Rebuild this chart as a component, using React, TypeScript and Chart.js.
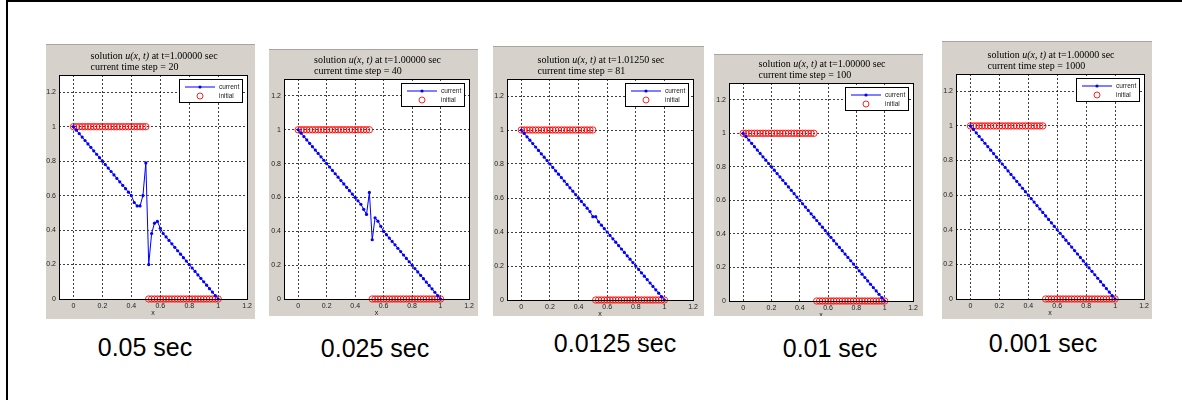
import React, { useEffect, useRef } from "react";
import { Chart, registerables } from "chart.js";

Chart.register(...registerables);

// ---------- data ----------
const xGrid = [
  0, 0.02, 0.04, 0.06, 0.08, 0.1, 0.12, 0.14, 0.16, 0.18,
  0.2, 0.22, 0.24, 0.26, 0.28, 0.3, 0.32, 0.34, 0.36, 0.38,
  0.4, 0.42, 0.44, 0.46, 0.48, 0.5, 0.52, 0.54, 0.56, 0.58,
  0.6, 0.62, 0.64, 0.66, 0.68, 0.7, 0.72, 0.74, 0.76, 0.78,
  0.8, 0.82, 0.84, 0.86, 0.88, 0.9, 0.92, 0.94, 0.96, 0.98, 1,
];

const initialValues = [
  1, 1, 1, 1, 1, 1, 1, 1, 1, 1,
  1, 1, 1, 1, 1, 1, 1, 1, 1, 1,
  1, 1, 1, 1, 1, 1, 0, 0, 0, 0,
  0, 0, 0, 0, 0, 0, 0, 0, 0, 0,
  0, 0, 0, 0, 0, 0, 0, 0, 0, 0, 0,
];

const currentDt005 = [
  1, 0.98, 0.96, 0.94, 0.92, 0.9, 0.88, 0.86, 0.84, 0.82,
  0.8, 0.78, 0.76, 0.74, 0.72, 0.7, 0.68, 0.66, 0.64, 0.62,
  0.6, 0.56, 0.54, 0.54, 0.6, 0.79, 0.2, 0.38, 0.44, 0.45,
  0.41, 0.38, 0.36, 0.34, 0.32, 0.3, 0.28, 0.26, 0.24, 0.22,
  0.2, 0.18, 0.16, 0.14, 0.12, 0.1, 0.08, 0.06, 0.04, 0.02, 0,
];

const currentDt0025 = [
  1, 0.98, 0.96, 0.94, 0.92, 0.9, 0.88, 0.86, 0.84, 0.82,
  0.8, 0.78, 0.76, 0.74, 0.72, 0.7, 0.68, 0.66, 0.64, 0.62,
  0.6, 0.58, 0.56, 0.53, 0.5, 0.63, 0.35, 0.48, 0.46, 0.43,
  0.4, 0.38, 0.36, 0.34, 0.32, 0.3, 0.28, 0.26, 0.24, 0.22,
  0.2, 0.18, 0.16, 0.14, 0.12, 0.1, 0.08, 0.06, 0.04, 0.02, 0,
];

const currentDt00125 = [
  1, 0.98, 0.96, 0.94, 0.92, 0.9, 0.88, 0.86, 0.84, 0.82,
  0.8, 0.78, 0.76, 0.74, 0.72, 0.7, 0.68, 0.66, 0.64, 0.62,
  0.6, 0.58, 0.56, 0.54, 0.52, 0.49, 0.49, 0.46, 0.44, 0.42,
  0.4, 0.38, 0.36, 0.34, 0.32, 0.3, 0.28, 0.26, 0.24, 0.22,
  0.2, 0.18, 0.16, 0.14, 0.12, 0.1, 0.08, 0.06, 0.04, 0.02, 0,
];

const currentDt001 = [
  1, 0.98, 0.96, 0.94, 0.92, 0.9, 0.88, 0.86, 0.84, 0.82,
  0.8, 0.78, 0.76, 0.74, 0.72, 0.7, 0.68, 0.66, 0.64, 0.62,
  0.6, 0.58, 0.56, 0.54, 0.52, 0.5, 0.48, 0.46, 0.44, 0.42,
  0.4, 0.38, 0.36, 0.34, 0.32, 0.3, 0.28, 0.26, 0.24, 0.22,
  0.2, 0.18, 0.16, 0.14, 0.12, 0.1, 0.08, 0.06, 0.04, 0.02, 0,
];

const currentDt0001 = [
  1, 0.98, 0.96, 0.94, 0.92, 0.9, 0.88, 0.86, 0.84, 0.82,
  0.8, 0.78, 0.76, 0.74, 0.72, 0.7, 0.68, 0.66, 0.64, 0.62,
  0.6, 0.58, 0.56, 0.54, 0.52, 0.5, 0.48, 0.46, 0.44, 0.42,
  0.4, 0.38, 0.36, 0.34, 0.32, 0.3, 0.28, 0.26, 0.24, 0.22,
  0.2, 0.18, 0.16, 0.14, 0.12, 0.1, 0.08, 0.06, 0.04, 0.02, 0,
];

const currentSeries = [currentDt005, currentDt0025, currentDt00125, currentDt001, currentDt0001];
const xTicks = [0, 0.2, 0.4, 0.6, 0.8, 1, 1.2];
const yTicks = [0, 0.2, 0.4, 0.6, 0.8, 1, 1.2];
const titleTimes = ["1.00000", "1.00000", "1.01250", "1.00000", "1.00000"];
const timeSteps = ["20", "40", "81", "100", "1000"];
const captions = ["0.05 sec", "0.025 sec", "0.0125 sec", "0.01 sec", "0.001 sec"];
const seriesLabels = ["current", "initial"];

// ---------- layout (screen px) ----------
const panels = [
  { gx: 46, gy: 45, gw: 209, gh: 274, L: 59, T: 75, R: 249, B: 299, capX: 145, capBase: 356 },
  { gx: 269, gy: 50, gw: 209, gh: 266, L: 284, T: 79, R: 469, B: 299, capX: 375, capBase: 357 },
  { gx: 493, gy: 47, gw: 211, gh: 269, L: 507, T: 79, R: 693, B: 300, capX: 615, capBase: 352 },
  { gx: 714, gy: 55, gw: 209, gh: 261, L: 729, T: 83, R: 913, B: 301, capX: 830, capBase: 357 },
  { gx: 942, gy: 42, gw: 210, gh: 277, L: 956, T: 74, R: 1144, B: 299, capX: 1043, capBase: 352 },
];

const SANS = "'Liberation Sans', Arial, sans-serif";
const SERIF = "'Liberation Serif', 'DejaVu Serif', serif";
const BLUE = "#0000ff";
const RED = "rgba(255,0,0,0.85)";

function makeDecor(idx: number) {
  return {
    id: "decor" + idx,
    beforeDraw(chart: any) {
      const { ctx, chartArea: a } = chart;
      ctx.save();
      ctx.fillStyle = "#ffffff";
      ctx.fillRect(a.left, a.top, a.right - a.left, a.bottom - a.top);
      ctx.restore();
    },
    afterDraw(chart: any) {
      const { ctx, chartArea: a } = chart;
      ctx.save();
      // plot box
      ctx.strokeStyle = "#000";
      ctx.lineWidth = 1;
      ctx.strokeRect(Math.round(a.left) + 0.5, Math.round(a.top) + 0.5, Math.round(a.right - a.left), Math.round(a.bottom - a.top));

      // title
      const cx = (a.left + a.right) / 2 + 1;
      const fN = `10px ${SERIF}`;
      const fI = `italic 10px ${SERIF}`;
      const parts: [string, string][] = [
        ["solution ", fN],
        ["u(x, t)", fI],
        [` at t=${titleTimes[idx]} sec`, fN],
      ];
      let total = 0;
      const widths = parts.map(([s, f]) => {
        ctx.font = f;
        const w = ctx.measureText(s).width;
        total += w;
        return w;
      });
      let x = cx - total / 2;
      const startX = x;
      ctx.fillStyle = "#000";
      ctx.textBaseline = "middle";
      ctx.textAlign = "left";
      parts.forEach(([s, f], i) => {
        ctx.font = f;
        ctx.fillText(s, x, a.top - 19);
        x += widths[i];
      });
      ctx.font = fN;
      ctx.fillText(`current time step = ${timeSteps[idx]}`, startX, a.top - 7.5);

      // x label
      ctx.font = `7px ${SANS}`;
      ctx.textAlign = "center";
      ctx.fillStyle = "#222";
      ctx.fillText("x", (a.left + a.right) / 2, a.bottom + 14.5);

      // legend
      const bw = 63, bh = 23;
      const bx = Math.round(a.right - 5 - bw);
      const by = Math.round(a.top + 4);
      ctx.fillStyle = "#fff";
      ctx.fillRect(bx, by, bw, bh);
      ctx.strokeStyle = "#000";
      ctx.lineWidth = 1;
      ctx.strokeRect(bx + 0.5, by + 0.5, bw, bh);
      const r1 = by + 8, r2 = by + 17;
      ctx.strokeStyle = BLUE;
      ctx.beginPath();
      ctx.moveTo(bx + 6, r1);
      ctx.lineTo(bx + 36, r1);
      ctx.stroke();
      ctx.fillStyle = BLUE;
      ctx.beginPath();
      ctx.arc(bx + 21, r1, 1.6, 0, Math.PI * 2);
      ctx.fill();
      ctx.strokeStyle = RED;
      ctx.beginPath();
      ctx.arc(bx + 21, r2, 3, 0, Math.PI * 2);
      ctx.stroke();
      ctx.fillStyle = "#222";
      ctx.font = `6.5px ${SANS}`;
      ctx.textAlign = "left";
      ctx.fillText(chart.data.datasets[0].label, bx + 40, r1);
      ctx.fillText(chart.data.datasets[1].label, bx + 40, r2);
      ctx.restore();
    },
  };
}

function Panel({ idx }: { idx: number }) {
  const ref = useRef<HTMLCanvasElement>(null);
  const p = panels[idx];
  useEffect(() => {
    const series = currentSeries[idx];
    const tickFont = { family: SANS, size: 7 };
    const chart = new Chart(ref.current as HTMLCanvasElement, {
      type: "scatter",
      data: {
        datasets: [
          {
            label: seriesLabels[0],
            data: xGrid.map((x, i) => ({ x, y: series[i] })),
            showLine: true,
            borderColor: BLUE,
            borderWidth: 1,
            pointRadius: 1.6,
            pointBackgroundColor: BLUE,
            pointBorderWidth: 0,
            clip: false,
            order: 0,
          } as any,
          {
            label: seriesLabels[1],
            data: xGrid.map((x, i) => ({ x, y: initialValues[i] })),
            showLine: false,
            pointRadius: 3.2,
            pointBorderColor: RED,
            pointBackgroundColor: "rgba(0,0,0,0)",
            pointBorderWidth: 1,
            clip: false,
            order: 1,
          } as any,
        ],
      },
      options: {
        responsive: false,
        animation: false,
        devicePixelRatio: 1,
        events: [],
        layout: { padding: { left: 0, top: p.T - p.gy, right: p.gx + p.gw - p.R, bottom: 0 } },
        plugins: {
          legend: { display: false },
          title: { display: false },
          tooltip: { enabled: false },
        },
        scales: {
          x: {
            type: "linear",
            min: -0.1,
            max: 1.2,
            bounds: "data",
            afterBuildTicks: (s: any) => {
              s.ticks = xTicks.map((v) => ({ value: v }));
            },
            afterFit: (s: any) => {
              s.height = p.gy + p.gh - p.B;
            },
            ticks: {
              font: tickFont,
              color: "#222",
              padding: 3,
              maxRotation: 0,
              autoSkip: false,
              callback: (v: any) => String(v),
            },
            grid: { color: "rgba(0,0,0,0.75)", lineWidth: 1, drawTicks: false },
            border: { display: false, dash: [2, 2] },
          },
          y: {
            type: "linear",
            min: 0,
            max: 1.3,
            bounds: "data",
            afterBuildTicks: (s: any) => {
              s.ticks = yTicks.map((v) => ({ value: v }));
            },
            afterFit: (s: any) => {
              s.width = p.L - p.gx;
            },
            ticks: {
              font: tickFont,
              color: "#222",
              padding: 3,
              autoSkip: false,
              callback: (v: any) => String(v),
            },
            grid: { color: "rgba(0,0,0,0.75)", lineWidth: 1, drawTicks: false },
            border: { display: false, dash: [2, 2] },
          },
        } as any,
      },
      plugins: [makeDecor(idx)],
    });
    return () => chart.destroy();
  }, [idx]);

  return (
    <>
      <div
        style={{
          position: "absolute",
          left: p.gx,
          top: p.gy - 1,
          width: p.gw,
          height: p.gh,
          background: "#d6d2cb",
          borderTop: "1px solid #a9a59e",
        }}
      >
        <canvas ref={ref} width={p.gw} height={p.gh} style={{ display: "block", width: p.gw, height: p.gh }} />
      </div>
      <div
        style={{
          position: "absolute",
          left: p.capX - 100,
          width: 200,
          top: p.capBase - 23.7,
          height: 30,
          lineHeight: "30px",
          fontSize: 25,
          fontFamily: SANS,
          color: "#000",
          textAlign: "center",
          whiteSpace: "nowrap",
        }}
      >
        {captions[idx]}
      </div>
    </>
  );
}

export default function App() {
  return (
    <div
      style={{
        position: "fixed",
        left: 0,
        top: 0,
        width: 1182,
        height: 400,
        background: "#fff",
        overflow: "hidden",
      }}
    >
      <div
        style={{
          position: "absolute",
          left: 6,
          top: 0,
          width: 1182,
          height: 400,
          borderTop: "2px solid #000",
          borderLeft: "2px solid #000",
          boxSizing: "border-box",
        }}
      />
      {panels.map((_, i) => (
        <Panel key={i} idx={i} />
      ))}
    </div>
  );
}
